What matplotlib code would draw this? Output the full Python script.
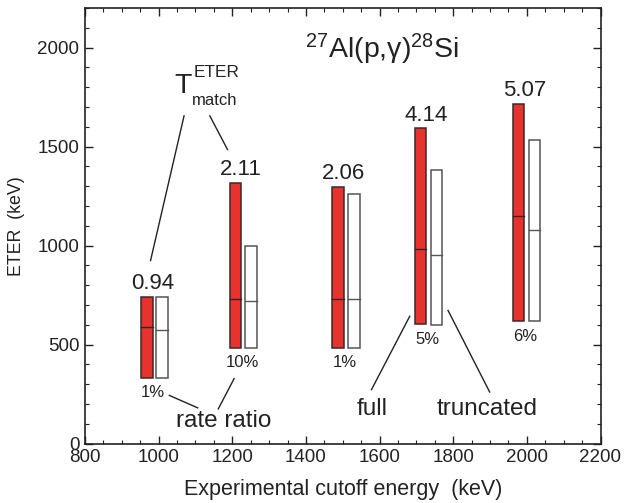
import matplotlib
matplotlib.use("Agg")
import matplotlib.pyplot as plt
from matplotlib.ticker import MultipleLocator
from matplotlib.patches import Rectangle
import numpy as np

plt.rcParams['font.family'] = ['Liberation Sans', 'DejaVu Sans']
plt.rcParams['mathtext.fontset'] = 'custom'
plt.rcParams['mathtext.rm'] = 'Liberation Sans'
plt.rcParams['mathtext.it'] = 'Liberation Sans:italic'

# Data
red_x = [968, 1208, 1487, 1711, 1978]
white_x = [1009, 1251, 1530, 1755, 2021]
red_low = [331, 483, 483, 606, 618]
red_high = [740, 1316, 1296, 1592, 1717]
red_med = [587, 732, 732, 983, 1149]
white_low = [331, 483, 483, 599, 618]
white_high = [740, 996, 1259, 1380, 1533]
white_med = [572, 720, 732, 951, 1081]
t_match = ["0.94", "2.11", "2.06", "4.14", "5.07"]
rate_ratio = ["1%", "10%", "1%", "5%", "6%"]

bar_w = 31
red_col = '#E8322E'
txt_col = '#222222'

fig = plt.figure(figsize=(6.28, 5.03), dpi=100)
ax = fig.add_axes([85/628, 1-443.5/503, (600.5-85)/628, (443.5-8)/503])
ax.set_xlim(800, 2200)
ax.set_ylim(0, 2200)

for i in range(len(red_x)):
    ax.add_patch(Rectangle((red_x[i]-bar_w/2, red_low[i]), bar_w, red_high[i]-red_low[i],
                           facecolor=red_col, edgecolor='#3a2a2a', lw=1.1, zorder=3))
    ax.plot([red_x[i]-bar_w/2, red_x[i]+bar_w/2], [red_med[i], red_med[i]], color='#3a2020', lw=1.0, zorder=4)
    ax.add_patch(Rectangle((white_x[i]-bar_w/2, white_low[i]), bar_w, white_high[i]-white_low[i],
                           facecolor='white', edgecolor='#555555', lw=1.1, zorder=3))
    ax.plot([white_x[i]-bar_w/2, white_x[i]+bar_w/2], [white_med[i], white_med[i]], color='#555555', lw=1.0, zorder=4)
    cx = (red_x[i] + white_x[i]) / 2
    ax.annotate(t_match[i], (cx - 6, red_high[i]), xytext=(0, 5.5), textcoords='offset points',
                ha='center', va='baseline', fontsize=16, color=txt_col)
    ax.annotate(rate_ratio[i], (cx - 3, min(red_low[i], white_low[i])), xytext=(0, -14), textcoords='offset points',
                ha='center', va='baseline', fontsize=12, color=txt_col)

# Title inside
ax.text(1608, 1944, r"$^{27}$Al(p,γ)$^{28}$Si", ha='center', va='baseline', fontsize=20.5, color=txt_col)

# T^ETER_match label
ax.text(1043, 1769, "T", ha='left', va='baseline', fontsize=20.5, color=txt_col)
ax.text(1094, 1849, "ETER", ha='left', va='baseline', fontsize=12.4, color=txt_col)
ax.text(1091, 1708, "match", ha='left', va='baseline', fontsize=12, color=txt_col)

# Annotation texts
ax.text(1176, 84, "rate ratio", ha='center', va='baseline', fontsize=17.5, color=txt_col)
ax.text(1579, 143, "full", ha='center', va='baseline', fontsize=17.5, color=txt_col)
ax.text(1891, 143, "truncated", ha='center', va='baseline', fontsize=17.5, color=txt_col)

# Annotation lines
lines = [
    ((1069, 1655), (978, 924)),
    ((1139, 1655), (1187, 1485)),
    ((1029, 243), (1106, 180)),
    ((1205, 328), (1162, 175)),
    ((1682, 643), (1578, 272)),
    ((1786, 672), (1899, 260)),
]
for (x0, y0), (x1, y1) in lines:
    ax.plot([x0, x1], [y0, y1], color=txt_col, lw=1.0)

ax.xaxis.set_major_locator(MultipleLocator(200))
ax.xaxis.set_minor_locator(MultipleLocator(50))
ax.yaxis.set_major_locator(MultipleLocator(500))
ax.yaxis.set_minor_locator(MultipleLocator(100))
ax.tick_params(which='both', direction='in', top=True, right=True, labelsize=13.5, colors=txt_col, pad=4)
ax.tick_params(which='major', length=6, width=1)
ax.tick_params(which='minor', length=3, width=0.8)
for s in ax.spines.values():
    s.set_linewidth(1.2)
    s.set_color(txt_col)

ax.set_xlabel("Experimental cutoff energy  (keV)", fontsize=15.5, color=txt_col, labelpad=9)
ax.set_ylabel("ETER  (keV)", fontsize=12.8, color=txt_col, labelpad=9)

fig.savefig("out.png", dpi=100)
